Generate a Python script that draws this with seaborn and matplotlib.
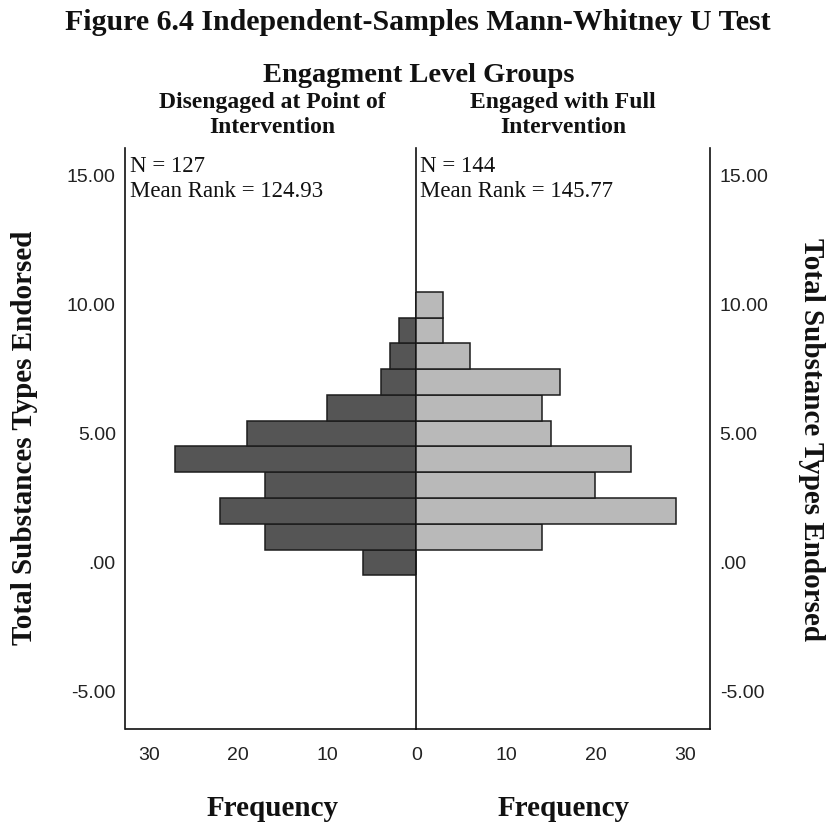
import numpy as np
import pandas as pd
import matplotlib
matplotlib.use("Agg")
import matplotlib.pyplot as plt
import seaborn as sns

# ---- data ----
substance_types = [0, 1, 2, 3, 4, 5, 6, 7, 8, 9, 10]
disengaged_freq = [6, 17, 22, 17, 27, 19, 10, 4, 3, 2, 0]
engaged_freq = [0, 14, 29, 20, 24, 15, 14, 16, 6, 3, 3]
group_names = ["Disengaged at Point of\nIntervention", "Engaged with Full\nIntervention"]
group_n = [127, 144]
group_mean_rank = [124.93, 145.77]
y_ticks = [-5, 0, 5, 10, 15]
y_tick_labels = ["-5.00", ".00", "5.00", "10.00", "15.00"]
x_ticks_left = [0, 10, 20, 30]
x_ticks_right = [10, 20, 30]

sns.set_theme(style="white")
plt.rcParams["font.family"] = ["Liberation Serif", "DejaVu Sans"]
plt.rcParams["text.color"] = "#111111"

W, H = 828, 827
fig = plt.figure(figsize=(W / 100, H / 100), dpi=100)

ax_bottom = 1 - 729 / H
ax_height = (729 - 148) / H
axL = fig.add_axes([125.5 / W, ax_bottom, (416.5 - 125.5) / W, ax_height])
axR = fig.add_axes([416.5 / W, ax_bottom, (710 - 416.5) / W, ax_height])

df = pd.DataFrame({"value": substance_types,
                   "dis": disengaged_freq,
                   "eng": engaged_freq})

sns.histplot(data=df, y="value", weights="dis", discrete=True, ax=axL,
             color="#555555", edgecolor="#1c1c1c", linewidth=1.1, alpha=1)
sns.histplot(data=df, y="value", weights="eng", discrete=True, ax=axR,
             color="#b9b9b9", edgecolor="#1c1c1c", linewidth=1.1, alpha=1)

ylim = (-6.45, 16.07)
for ax in (axL, axR):
    ax.set_ylim(*ylim)
    ax.set_xlabel("")
    ax.set_ylabel("")
    ax.patch.set_visible(False)
    ax.spines["top"].set_visible(False)
    for s in ax.spines.values():
        s.set_color("#111111")
        s.set_linewidth(1.2)
        s.set_zorder(5)
    ax.tick_params(axis="both", length=0, labelsize=14)

axL.set_xlim(32.6, 0)
axR.set_xlim(0, 32.8)
axR.spines["left"].set_visible(False)

axL.set_xticks(x_ticks_left)
axL.set_xticklabels([str(v) for v in x_ticks_left])
axR.set_xticks(x_ticks_right)
axR.set_xticklabels([str(v) for v in x_ticks_right])
axL.set_yticks(y_ticks)
axL.set_yticklabels(y_tick_labels)
axR.set_yticks(y_ticks)
axR.set_yticklabels(y_tick_labels)
axR.yaxis.tick_right()
axL.tick_params(axis="y", pad=7)
axR.tick_params(axis="y", pad=7)
axL.tick_params(axis="x", pad=13)
axR.tick_params(axis="x", pad=13)

for ax in (axL, axR):
    for lab in ax.get_xticklabels() + ax.get_yticklabels():
        lab.set_fontfamily(["Liberation Sans", "DejaVu Sans"])
        lab.set_color("#222222")

# ---- texts ----
fig.text(418 / W, 1 - 23 / H, "Figure 6.4 Independent-Samples Mann-Whitney U Test",
         ha="center", va="center", fontsize=21.5, fontweight="bold")
fig.text(419 / W, 1 - 75 / H, "Engagment Level Groups",
         ha="center", va="center", fontsize=20.5, fontweight="bold")
fig.text(272 / W, 1 - 115 / H, group_names[0], ha="center", va="center",
         fontsize=17, fontweight="bold", linespacing=1.25)
fig.text(563 / W, 1 - 115 / H, group_names[1], ha="center", va="center",
         fontsize=17, fontweight="bold", linespacing=1.25)

for ax, n, mr in zip((axL, axR), group_n, group_mean_rank):
    x0 = 130 / W if ax is axL else 420 / W
    fig.text(x0, 1 - 179 / H, f"N = {n}\nMean Rank = {mr:.2f}",
             ha="left", va="center", fontsize=16.5, linespacing=1.3)

fig.text(25 / W, 1 - 438 / H, "Total Substances Types Endorsed", rotation=90,
         ha="center", va="center", fontsize=21, fontweight="bold")
fig.text(812 / W, 1 - 440 / H, "Total Substance Types Endorsed", rotation=270,
         ha="center", va="center", fontsize=21, fontweight="bold")
fig.text(273 / W, 1 - 808 / H, "Frequency", ha="center", va="center",
         fontsize=21, fontweight="bold")
fig.text(564 / W, 1 - 808 / H, "Frequency", ha="center", va="center",
         fontsize=21, fontweight="bold")

fig.savefig("out.png", dpi=100, facecolor="white")
